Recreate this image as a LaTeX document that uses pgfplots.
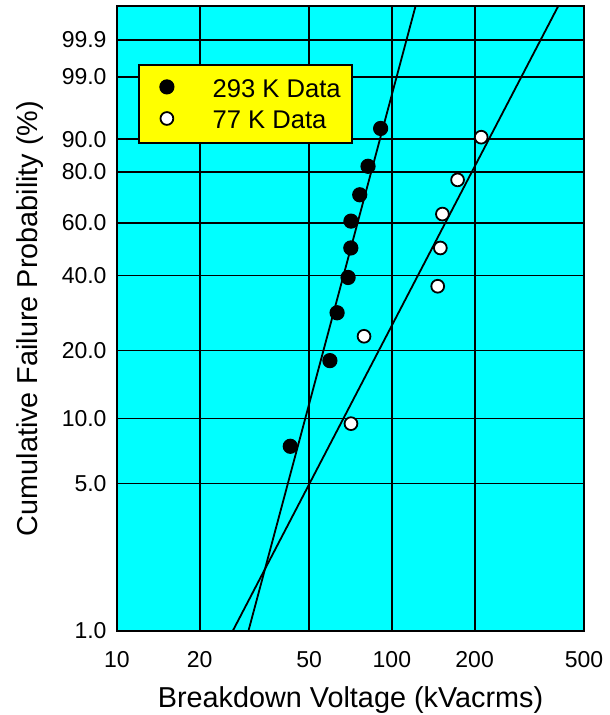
\documentclass[border=0pt]{standalone}
\usepackage{pgfplots}
\usepackage{pgfplotstable}
\pgfplotsset{compat=1.18}
\usepackage{fontspec}
\setmainfont{Liberation Sans}
\definecolor{bgcyan}{RGB}{0,255,255}
\definecolor{legyellow}{RGB}{255,255,0}

% 293 K data: voltage (kV), cumulative failure probability (%)
\pgfplotstableread{
V F
42.7 7.45
59.5 18.09
63.2 28.72
69.3 39.36
70.9 50.00
71.0 60.64
76.4 71.28
81.9 81.91
91.0 92.55
}\warmdata
% 77 K data
\pgfplotstableread{
V F
71.0 9.46
79.2 22.97
146.8 36.49
150.1 50.00
152.7 63.51
173.4 77.03
211.3 90.54
}\colddata
% Weibull fit lines (end points)
\pgfplotstableread{
V F
30.08 1.0
121.9 99.9957
}\warmfit
\pgfplotstableread{
V F
26.38 1.0
402.7 99.9957
}\coldfit

\begin{document}
\begin{tikzpicture}
\begin{axis}[
  name=ax,
  scale only axis,
  width=233.5pt, height=312.5pt,
  xmode=log,
  xmin=10, xmax=500,
  ymin=-4.60015, ymax=2.308,
  xtick={10,20,50,100,200,500},
  xticklabels={10,20,50,100,200,500},
  xminorticks=false, yminorticks=false,
  ytick={-4.60015,-2.97020,-2.25037,-1.49994,-0.67173,-0.08742,0.47588,0.83403,1.52718,1.93264},
  yticklabels={1.0,5.0,10.0,20.0,40.0,60.0,80.0,90.0,99.0,99.9},
  grid=major,
  major grid style={black, line width=0.9pt},
  axis line style={black, line width=1.3pt},
  tick style={draw=none},
  axis background/.style={fill=bgcyan},
  ticklabel style={font=\fontsize{11.5}{13}\selectfont},
  /pgf/number format/assume math mode=true,
  xticklabel style={yshift=-6.5pt},
  yticklabel style={xshift=-1.7pt},
  xlabel={Breakdown Voltage (kVacrms)},
  ylabel={Cumulative Failure Probability (\%)},
  label style={font=\fontsize{14.4}{17}\selectfont},
  xlabel style={at={(axis description cs:0.5,-0.1104)}, anchor=center},
  ylabel style={at={(axis description cs:-0.1863,0.5)}, anchor=center},
  legend style={
    at={(axis description cs:0.0456,0.9072)}, anchor=north west,
    fill=legyellow, draw=black, line width=1.1pt,
    inner xsep=5.8pt, inner ysep=3.6pt,
    font=\fontsize{12.8}{15}\selectfont,
    nodes={inner sep=0pt, text height=12.5pt, text depth=3.3pt},
    row sep=0pt, column sep=0pt,
  },
  legend cell align=left,
  legend image code/.code={
    \path (0pt,0pt) (29.7pt,0pt);
    \draw[#1] plot coordinates {(7.4pt,0.6pt)};
  },
]
\addplot[black, line width=0.9pt, forget plot] table[x=V, y expr={ln(-ln(1-\thisrow{F}/100))}] {\warmfit};
\addplot[black, line width=0.9pt, forget plot] table[x=V, y expr={ln(-ln(1-\thisrow{F}/100))}] {\coldfit};
\addplot[only marks, mark=*, mark size=3.5pt, mark options={fill=black, draw=black, line width=0.6pt}]
  table[x=V, y expr={ln(-ln(1-\thisrow{F}/100))}] {\warmdata};
\addlegendentry{293 K Data}
\addplot[only marks, mark=*, mark size=3.2pt, mark options={fill=white, draw=black, line width=0.9pt}]
  table[x=V, y expr={ln(-ln(1-\thisrow{F}/100))}] {\colddata};
\addlegendentry{77 K Data}
\end{axis}
\pgfresetboundingbox
\path[use as bounding box] ([shift={(-58.5pt,-42pt)}]ax.south west) rectangle ([shift={(12.5pt,3pt)}]ax.north east);
\end{tikzpicture}
\end{document}
